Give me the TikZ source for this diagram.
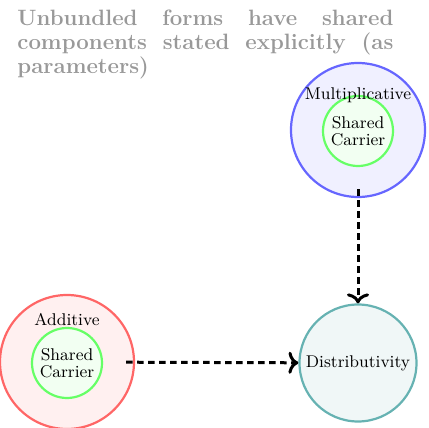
\documentclass[tikz,border=0pt]{standalone}
\usetikzlibrary{arrows.meta}
\newcommand{\nodefont}{\fontsize{8.5}{8.3}\selectfont}
\newcommand{\titlefont}{\fontsize{11.1}{12}\selectfont\bfseries}
\begin{document}
\begin{tikzpicture}[x=0.5pt,y=-0.5pt,
  outerc/.style={circle, minimum size=67pt, line width=1.1pt, inner sep=0pt},
  innerc/.style={circle, draw=green!60, fill=green!5, minimum size=35pt, line width=1.1pt, inner sep=0pt, align=center, font=\nodefont},
  lbl/.style={font=\nodefont, inner sep=0pt, anchor=base},
  flow/.style={line width=1.5pt, dash pattern=on 3.3pt off 2.2pt, -{Computer Modern Rightarrow[length=5pt,width=11pt]}, shorten <=-4.5pt}
]
\useasboundingbox (0,0) rectangle (429,428);
% title
\node (title) [anchor=north west, inner sep=0pt, text width=188pt, align=justify, text=black!40, font=\titlefont] at (17,10)
  {\hyphenpenalty=10000 \tolerance=9999 Unbundled forms have shared components stated explicitly (as parameters)};
% multiplicative
\node (mult) [outerc, draw=blue!60, fill=blue!6] at (358,130) {};
\node (multc) [innerc] at (358,131) {Shared\\Carrier};
\node (multl) [lbl] at (358,99) {Multiplicative};
% additive
\node (add) [outerc, draw=red!60, fill=red!6] at (67,362) {};
\node (addc) [innerc] at (67,363) {Shared\\Carrier};
\node (addl) [lbl] at (67,325) {Additive};
% distributivity
\node (dist) [circle, draw=teal!60, fill=teal!6, line width=1.1pt, minimum size=58.5pt, inner sep=0pt, font=\nodefont] at (358,363) {Distributivity};
% connectors
\draw[flow] (mult) -- (dist);
\draw[flow] (add) -- (dist);
\end{tikzpicture}
\end{document}
